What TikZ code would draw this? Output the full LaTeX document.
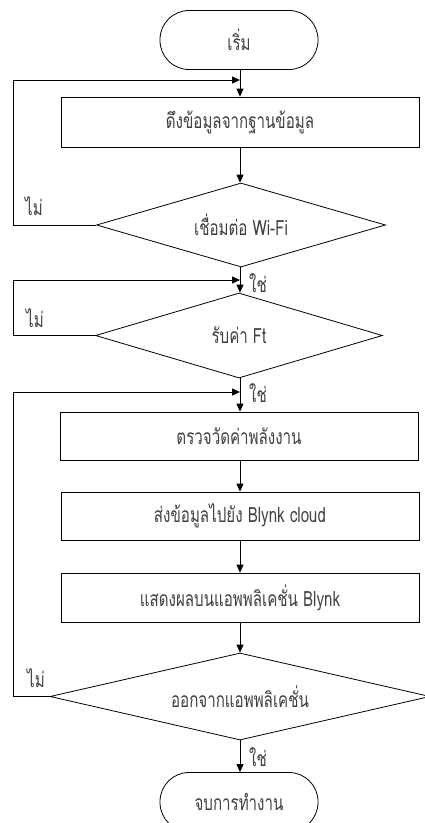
\documentclass[tikz,border=0pt]{standalone}
\usepackage{fontspec}
\newfontfamily\thaifont[Script=Thai,FakeStretch=0.72]{Loma}
\usetikzlibrary{shapes.geometric,arrows.meta}
\begin{document}
\begin{tikzpicture}[x=1pt,y=-1pt,
  every node/.style={font=\thaifont\fontsize{21}{24}\selectfont, text=black!75},
  proc/.style={draw=black, line width=0.8pt, rectangle, minimum width=358pt, minimum height=49pt, inner sep=0pt},
  term/.style={draw=black, line width=0.8pt, rectangle, rounded corners=29pt, minimum width=158pt, minimum height=59pt, inner sep=0pt},
  deci/.style={draw=black, line width=0.8pt, diamond, inner sep=0pt, shape aspect=4},
  flow/.style={draw=black, line width=0.8pt, -{Triangle[length=8pt,width=7pt]}},
  lbl/.style={inner sep=0pt}
]
\useasboundingbox (0,0) rectangle (424,823);
\node[term] (start) at (239,40) {เริ่ม};
\node[proc, minimum height=50pt] (b1) at (240,122) {ดึงข้อมูลจากฐานข้อมูล};
\node[deci, minimum width=289pt, minimum height=84pt, shape aspect=3.44] (d1) at (241,225) {เชื่อมต่อ Wi-Fi};
\node[deci, minimum width=287pt, minimum height=85pt, shape aspect=3.38] (d2) at (239,335.5) {รับค่า Ft};
\node[proc, minimum height=48pt] (b3) at (239,436) {ตรวจวัดค่าพลังงาน};
\node[proc, minimum height=48pt] (b4) at (240,516) {ส่งข้อมูลไปยัง Blynk cloud};
\node[proc, minimum height=49pt] (b5) at (240,597.5) {แสดงผลบนแอพพลิเคชั่น Blynk};
\node[deci, minimum width=380pt, minimum height=87pt, shape aspect=4.37] (d3) at (240,696.5) {ออกจากแอพพลิเคชั่น};
\node[term] (end) at (239,802) {จบการทำงาน};

\coordinate (j1) at (240,80);
\coordinate (j2) at (240,280);
\coordinate (j3) at (240,392);
\coordinate (lx1) at (13,0);

% main flow
\draw[flow] (start.south -| j1) -- (b1.north -| j1);
\draw[flow] (b1.south -| j1) -- (d1.north -| j1);
\draw[flow] (d1.south -| j1) -- (d2.north -| j1);
\draw[flow] (d2.south -| j1) -- (b3.north -| j1);
\draw[flow] (b3.south -| j1) -- (b4.north -| j1);
\draw[flow] (b4.south -| j1) -- (b5.north -| j1);
\draw[flow] (b5.south -| j1) -- (d3.north -| j1);
\draw[flow] (d3.south -| j1) -- (end.north -| j1);

% loops
\draw[flow] (d1.west) -- (d1.west -| lx1) -- (j1 -| lx1) -- (j1);
\draw[flow] (d2.west) -- (d2.west -| lx1) -- (j2 -| lx1) -- (j2);
\draw[flow] (d3.west) -- (d3.west -| lx1) -- (j3 -| lx1) -- (j3);

% labels
\node[lbl] (n1) at (34,206) {ไม่};
\node[lbl] (n2) at (35,318) {ไม่};
\node[lbl] (n3) at (36,678) {ไม่};
\node[lbl] (y1) at (258,283) {ใช่};
\node[lbl] (y2) at (258,393) {ใช่};
\node[lbl] (y3) at (258,757) {ใช่};
\end{tikzpicture}
\end{document}
